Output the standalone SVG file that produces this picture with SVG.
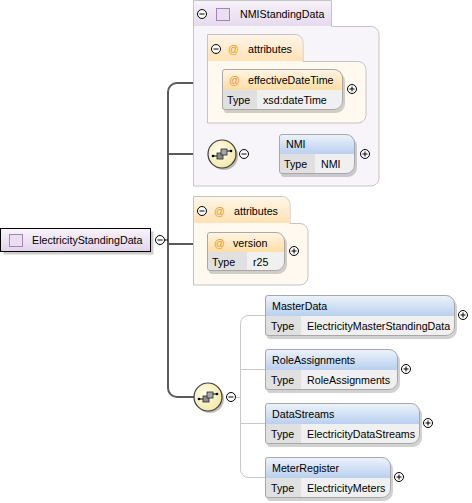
<svg xmlns="http://www.w3.org/2000/svg" xmlns:xlink="http://www.w3.org/1999/xlink" width="472" height="503" viewBox="0 0 472 503">
<style>
text{font-family:"Liberation Sans",Arial,sans-serif;font-size:10.7px;fill:#000}
.at{fill:#E8961E}
.grp{fill:#FFF9EF;stroke:#C4C4C4;stroke-width:1}
.cplx{fill:#F8F5FA;stroke:#C4C4C4;stroke-width:1}
.ol{fill:none;stroke:#A8A8A8;stroke-width:1}
.sh{fill:#000;opacity:0.18}
.row{fill:#F0F0F0}
.lab{fill:#E0E0E0}
.hdo{fill:url(#gOrange)}
.hdb{fill:url(#gBlue)}
.thick{fill:none;stroke:#5A5A5A;stroke-width:2}
.thin{fill:none;stroke:#C8C8C8;stroke-width:1}
.pm{fill:#fff;stroke:#000;stroke-width:1}
.pml{stroke:#000;stroke-width:1}
</style>
<defs>
<linearGradient id="gOrange" x1="0" y1="0" x2="0" y2="1"><stop offset="0" stop-color="#FFF6E6"/><stop offset="1" stop-color="#FFDDA6"/></linearGradient>
<linearGradient id="gBlue" x1="0" y1="0" x2="0" y2="1"><stop offset="0" stop-color="#EEF4FC"/><stop offset="1" stop-color="#B9D0EF"/></linearGradient>
<linearGradient id="gTab" x1="0" y1="0" x2="0" y2="1"><stop offset="0" stop-color="#F7F2FA"/><stop offset="1" stop-color="#E6DAEE"/></linearGradient>
<linearGradient id="gTabO" x1="0" y1="0" x2="0" y2="1"><stop offset="0" stop-color="#FFF6E8"/><stop offset="1" stop-color="#FFE2B4"/></linearGradient>
<linearGradient id="gRoot" x1="0" y1="0" x2="0" y2="1"><stop offset="0" stop-color="#F8F4FA"/><stop offset="1" stop-color="#E2D4EC"/></linearGradient>
<radialGradient id="gSeq" cx="0.4" cy="0.4" r="0.6"><stop offset="0" stop-color="#FFFFF0"/><stop offset="1" stop-color="#F2E9A8"/></radialGradient>
<g id="minus"><circle r="4.5" class="pm"/><path d="M-2.5,0H2.5" class="pml"/></g>
<g id="plus"><circle r="4.5" class="pm"/><path d="M-2.5,0H2.5M0,-2.5V2.5" class="pml"/></g>
<g id="seq">
<circle cx="2" cy="2" r="14" fill="#000" opacity="0.25"/>
<circle r="14" fill="url(#gSeq)" stroke="#3C3C3C" stroke-width="1.2"/>
<path d="M-9,2H-5M5,-3H9" stroke="#000" stroke-width="1"/>
<circle cx="-9" cy="2" r="1.3" fill="#000"/>
<circle cx="9" cy="-3" r="1.3" fill="#000"/>
<rect x="-5" y="-1" width="6" height="6" fill="#8C8C8C" stroke="#2A2A2A" stroke-width="0.8"/>
<rect x="-1" y="-5" width="6" height="6" fill="#A6A6A6" stroke="#2A2A2A" stroke-width="0.8"/>
</g>
<g id="cicon"><rect width="13" height="12" fill="#EADFF1" stroke="#A384B8" stroke-width="1"/></g>
</defs>

<g id="connectors">
<path class="thick" d="M208,83H177A9,9 0 0 0 168,92V388A9,9 0 0 0 177,397H194"/>
<path class="thick" d="M168,154H208"/>
<path class="thick" d="M168,244H193"/>
<path d="M164.5,240H168" stroke="#000" stroke-width="1"/>
<path class="thin" d="M249,154.5H279"/>
<path class="thin" d="M236,397.5H240"/>
<path class="thin" d="M265,315.5H248A8,8 0 0 0 240.5,323.5V469.5A8,8 0 0 0 248,477.5H265"/>
<path class="thin" d="M240.5,369.5H265M240.5,423.5H265"/>
</g>

<g id="ElectricityStandingData">
<rect x="3.5" y="231.5" width="150" height="23" fill="#000" opacity="0.2"/>
<rect x="0.5" y="228.5" width="150" height="23" fill="url(#gRoot)" stroke="#000" stroke-width="1"/>
<use xlink:href="#cicon" x="9.5" y="234.5"/>
<text x="32" y="244">ElectricityStandingData</text>
<use xlink:href="#minus" x="160" y="240"/>
</g>

<g id="NMIStandingData">
<path class="cplx" d="M193.5,0.5H331.5V26.5H371A8,8 0 0 1 379,34.5V178A8,8 0 0 1 371,186H193.5Z"/>
<rect x="194" y="1" width="137" height="25" fill="url(#gTab)"/>
<use xlink:href="#minus" x="202" y="14"/>
<use xlink:href="#cicon" x="216.5" y="8.5"/>
<text x="240" y="18">NMIStandingData</text>
</g>

<g id="attributes1">
<path class="grp" d="M207.5,34.5H295A8,8 0 0 1 303,42.5V61.5H358A8,8 0 0 1 366,69.5V115A8,8 0 0 1 358,123H207.5Z"/>
<path d="M208,35H295A7.5,7.5 0 0 1 302.5,42.5V61H208Z" fill="url(#gTabO)"/>
<use xlink:href="#minus" x="216" y="49"/>
<text class="at" x="228" y="53">@</text>
<text x="248" y="53">attributes</text>
</g>

<g id="effectiveDateTime">
<path class="sh" transform="translate(2,3)" d="M225,69H334A9,9 0 0 1 343,78V101A9,9 0 0 1 334,110H225A3,3 0 0 1 222,107V72A3,3 0 0 1 225,69Z"/>
<path class="hdo" d="M225,69H334A9,9 0 0 1 343,78V90H222V72A3,3 0 0 1 225,69Z"/>
<path class="row" d="M222,90H343V101A9,9 0 0 1 334,110H225A3,3 0 0 1 222,107Z"/>
<rect class="lab" x="222.5" y="90" width="34.5" height="19.5"/>
<path class="ol" d="M225,69.5H334A8.5,8.5 0 0 1 342.5,78V101A8.5,8.5 0 0 1 334,109.5H225A2.5,2.5 0 0 1 222.5,107V72A2.5,2.5 0 0 1 225,69.5Z"/>
<text class="at" x="229" y="84">@</text>
<text x="248" y="84">effectiveDateTime</text>
<text x="227" y="104">Type</text>
<text x="263" y="104">xsd:dateTime</text>
<use xlink:href="#plus" x="352" y="89"/>
</g>

<g id="sequence1">
<use xlink:href="#seq" x="222" y="154"/>
<use xlink:href="#minus" x="244" y="154"/>
</g>

<g id="NMI">
<path class="sh" transform="translate(2,3)" d="M282,134H346A9,9 0 0 1 355,143V165A9,9 0 0 1 346,174H282A3,3 0 0 1 279,171V137A3,3 0 0 1 282,134Z"/>
<path class="hdb" d="M282,134H346A9,9 0 0 1 355,143V154H279V137A3,3 0 0 1 282,134Z"/>
<path class="row" d="M279,154H355V165A9,9 0 0 1 346,174H282A3,3 0 0 1 279,171Z"/>
<rect class="lab" x="279.5" y="154" width="35.5" height="19.5"/>
<path class="ol" d="M282,134.5H346A8.5,8.5 0 0 1 354.5,143V165A8.5,8.5 0 0 1 346,173.5H282A2.5,2.5 0 0 1 279.5,171V137A2.5,2.5 0 0 1 282,134.5Z"/>
<text x="286" y="148">NMI</text>
<text x="284" y="168">Type</text>
<text x="321" y="168">NMI</text>
<use xlink:href="#plus" x="365" y="154"/>
</g>

<g id="attributes2">
<path class="grp" d="M193.5,196.5H282A8,8 0 0 1 290,204.5V223.5H300A8,8 0 0 1 308,231.5V277A8,8 0 0 1 300,285H193.5Z"/>
<path d="M194,197H282A7.5,7.5 0 0 1 289.5,204.5V223H194Z" fill="url(#gTabO)"/>
<use xlink:href="#minus" x="202" y="211"/>
<text class="at" x="214" y="215">@</text>
<text x="234" y="215">attributes</text>
</g>

<g id="version">
<path class="sh" transform="translate(2,3)" d="M210,232H276A9,9 0 0 1 285,241V262A9,9 0 0 1 276,271H210A3,3 0 0 1 207,268V235A3,3 0 0 1 210,232Z"/>
<path class="hdo" d="M210,232H276A9,9 0 0 1 285,241V252H207V235A3,3 0 0 1 210,232Z"/>
<path class="row" d="M207,252H285V262A9,9 0 0 1 276,271H210A3,3 0 0 1 207,268Z"/>
<rect class="lab" x="207.5" y="252" width="39.5" height="18.5"/>
<path class="ol" d="M210,232.5H276A8.5,8.5 0 0 1 284.5,241V262A8.5,8.5 0 0 1 276,270.5H210A2.5,2.5 0 0 1 207.5,268V235A2.5,2.5 0 0 1 210,232.5Z"/>
<text class="at" x="214" y="247">@</text>
<text x="233" y="247">version</text>
<text x="212" y="266">Type</text>
<text x="253" y="266">r25</text>
<use xlink:href="#plus" x="294" y="251"/>
</g>

<g id="sequence2">
<use xlink:href="#seq" x="208" y="397"/>
<use xlink:href="#minus" x="231" y="397"/>
</g>

<g id="MasterData">
<path class="sh" transform="translate(2,3)" d="M268,295H446A9,9 0 0 1 455,304V327A9,9 0 0 1 446,336H268A3,3 0 0 1 265,333V298A3,3 0 0 1 268,295Z"/>
<path class="hdb" d="M268,295H446A9,9 0 0 1 455,304V316H265V298A3,3 0 0 1 268,295Z"/>
<path class="row" d="M265,316H455V327A9,9 0 0 1 446,336H268A3,3 0 0 1 265,333Z"/>
<rect class="lab" x="265.5" y="316" width="35.5" height="19.5"/>
<path class="ol" d="M268,295.5H446A8.5,8.5 0 0 1 454.5,304V327A8.5,8.5 0 0 1 446,335.5H268A2.5,2.5 0 0 1 265.5,333V298A2.5,2.5 0 0 1 268,295.5Z"/>
<text x="272" y="309.5">MasterData</text>
<text x="271" y="330">Type</text>
<text x="307" y="330">ElectricityMasterStandingData</text>
<use xlink:href="#plus" x="463" y="315"/>
</g>

<g id="RoleAssignments">
<path class="sh" transform="translate(2,3)" d="M268,349H389A9,9 0 0 1 398,358V381A9,9 0 0 1 389,390H268A3,3 0 0 1 265,387V352A3,3 0 0 1 268,349Z"/>
<path class="hdb" d="M268,349H389A9,9 0 0 1 398,358V370H265V352A3,3 0 0 1 268,349Z"/>
<path class="row" d="M265,370H398V381A9,9 0 0 1 389,390H268A3,3 0 0 1 265,387Z"/>
<rect class="lab" x="265.5" y="370" width="35.5" height="19.5"/>
<path class="ol" d="M268,349.5H389A8.5,8.5 0 0 1 397.5,358V381A8.5,8.5 0 0 1 389,389.5H268A2.5,2.5 0 0 1 265.5,387V352A2.5,2.5 0 0 1 268,349.5Z"/>
<text x="272" y="363.5">RoleAssignments</text>
<text x="271" y="384">Type</text>
<text x="307" y="384">RoleAssignments</text>
<use xlink:href="#plus" x="406" y="369"/>
</g>

<g id="DataStreams">
<path class="sh" transform="translate(2,3)" d="M268,403H411A9,9 0 0 1 420,412V435A9,9 0 0 1 411,444H268A3,3 0 0 1 265,441V406A3,3 0 0 1 268,403Z"/>
<path class="hdb" d="M268,403H411A9,9 0 0 1 420,412V424H265V406A3,3 0 0 1 268,403Z"/>
<path class="row" d="M265,424H420V435A9,9 0 0 1 411,444H268A3,3 0 0 1 265,441Z"/>
<rect class="lab" x="265.5" y="424" width="35.5" height="19.5"/>
<path class="ol" d="M268,403.5H411A8.5,8.5 0 0 1 419.5,412V435A8.5,8.5 0 0 1 411,443.5H268A2.5,2.5 0 0 1 265.5,441V406A2.5,2.5 0 0 1 268,403.5Z"/>
<text x="272" y="417.5">DataStreams</text>
<text x="271" y="438">Type</text>
<text x="307" y="438">ElectricityDataStreams</text>
<use xlink:href="#plus" x="428" y="423"/>
</g>

<g id="MeterRegister">
<path class="sh" transform="translate(2,3)" d="M268,457H382A9,9 0 0 1 391,466V489A9,9 0 0 1 382,498H268A3,3 0 0 1 265,495V460A3,3 0 0 1 268,457Z"/>
<path class="hdb" d="M268,457H382A9,9 0 0 1 391,466V478H265V460A3,3 0 0 1 268,457Z"/>
<path class="row" d="M265,478H391V489A9,9 0 0 1 382,498H268A3,3 0 0 1 265,495Z"/>
<rect class="lab" x="265.5" y="478" width="35.5" height="19.5"/>
<path class="ol" d="M268,457.5H382A8.5,8.5 0 0 1 390.5,466V489A8.5,8.5 0 0 1 382,497.5H268A2.5,2.5 0 0 1 265.5,495V460A2.5,2.5 0 0 1 268,457.5Z"/>
<text x="272" y="471.5">MeterRegister</text>
<text x="271" y="492">Type</text>
<text x="307" y="492">ElectricityMeters</text>
<use xlink:href="#plus" x="399" y="477"/>
</g>
</svg>
